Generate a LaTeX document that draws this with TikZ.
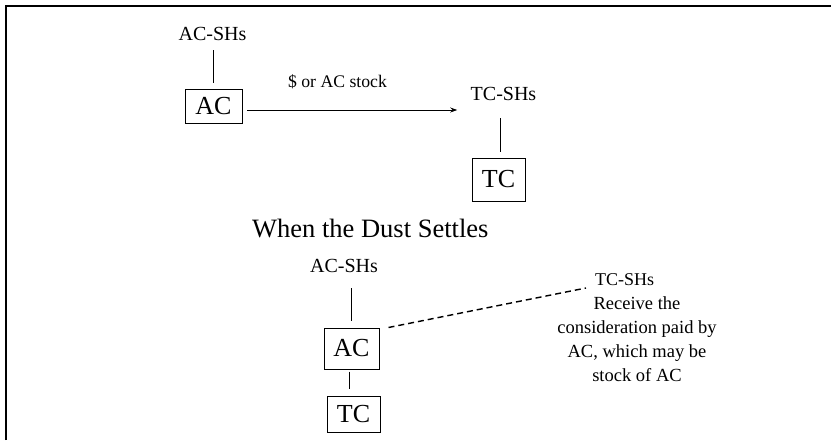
\documentclass[tikz,border=0pt]{standalone}
\usepackage{fontspec}
\setmainfont{Liberation Serif}
\usetikzlibrary{arrows.meta}
\tikzset{
  lbl/.style={inner sep=0pt, font=\fontsize{20}{24}\selectfont},
  small/.style={inner sep=0pt, font=\fontsize{18}{24}\selectfont},
  entity/.style={draw, line width=1pt, inner sep=0pt, font=\fontsize{26}{30}\selectfont},
  conn/.style={line width=0.9pt},
  frameline/.style={line width=1.5pt}
}
\begin{document}
\begin{tikzpicture}[x=1pt,y=-1pt]
\useasboundingbox (0,0) rectangle (831,440);
% frame
\coordinate (f1) at (6,440);
\coordinate (f2) at (6,6);
\coordinate (f3) at (831,6);
\draw[frameline] (f1) -- (f2) -- (f3);

% top part
\node[lbl, anchor=base] (acsh1) at (212.5,40) {AC-SHs};
\node[entity, minimum width=57pt, minimum height=34pt] (ac1) at (213.5,106) {AC};
\node[lbl, anchor=base] (tcsh1) at (503.5,100) {TC-SHs};
\node[entity, minimum width=53pt, minimum height=43pt] (tc1) at (498.5,179.5) {TC};
\node[small, anchor=base, font=\fontsize{17.7}{22}\selectfont] (pay) at (337.5,87) {\$ or AC stock};

\draw[conn, shorten <=10pt, shorten >=6pt] (ac1.north |- acsh1.south) -- (ac1.north);
\draw[conn, shorten <=18pt, shorten >=6pt] ([xshift=1.5pt]tc1.north |- tcsh1.south) -- ([xshift=1.5pt]tc1.north);
\draw[conn, -{Stealth[length=7pt,width=5pt]}, shorten <=4.7pt, shorten >=13.3pt]
  ([yshift=-4pt]ac1.east) -- ([yshift=-4pt]ac1.east -| tcsh1.west);

% title
\node[inner sep=0pt, anchor=base west, font=\fontsize{26.5}{30}\selectfont] (title) at (252,237) {When the Dust Settles};

% bottom part
\node[lbl, anchor=base] (acsh2) at (344,272) {AC-SHs};
\node[entity, minimum width=55pt, minimum height=41pt] (ac2) at (351.5,348.5) {AC};
\node[entity, minimum width=53pt, minimum height=36pt] (tc2) at (353.5,414) {TC};
\node[small, anchor=base west] (tcsh2) at (595,285) {TC-SHs};
\node[small, align=center, font=\fontsize{18.5}{24}\selectfont] (note) at (637,339)
  {Receive the\\consideration paid by\\AC, which may be\\stock of AC};

\draw[conn, shorten <=16pt, shorten >=7pt] (ac2.north |- acsh2.south) -- (ac2.north);
\draw[conn, shorten <=2pt, shorten >=7pt] ([xshift=-2pt]ac2.south) -- ([xshift=-2pt]ac2.south |- tc2.north);
\draw[line width=1.4pt, dash pattern=on 6pt off 4pt]
  ([xshift=9pt]ac2.north east) -- ([xshift=-9pt,yshift=-3pt]tcsh2.base west);
\end{tikzpicture}
\end{document}
